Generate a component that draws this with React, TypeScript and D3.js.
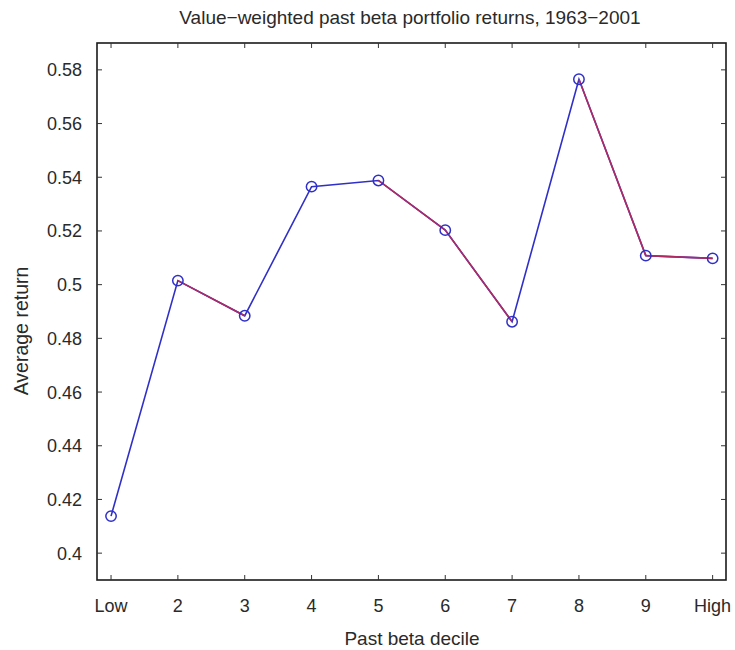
import React from "react";
import * as d3 from "d3";

const categories: string[] = ["Low", "2", "3", "4", "5", "6", "7", "8", "9", "High"];
const returnsVW: number[] = [0.4138, 0.5015, 0.4884, 0.5365, 0.5388, 0.5203, 0.4862, 0.5765, 0.5108, 0.5098];
const yTicks: number[] = [0.4, 0.42, 0.44, 0.46, 0.48, 0.5, 0.52, 0.54, 0.56, 0.58];
const titleText = "Value\u2212weighted past beta portfolio returns, 1963\u22122001";
const xLabelText = "Past beta decile";
const yLabelText = "Average return";

const W = 735;
const H = 650;
const L = 97, R = 726, T = 43, B = 580;
const FONT = "'Liberation Sans', Arial, Helvetica, sans-serif";

export default function App() {
  const x = d3.scaleLinear().domain([0.79, 10.2]).range([L, R]);
  const y = d3.scaleLinear().domain([0.39, 0.59]).range([B, T]);
  const xIdx = categories.map((_, i) => i + 1);
  const pts: [number, number][] = returnsVW.map((v, i) => [x(i + 1), y(v)]);
  const line = d3.line<[number, number]>();
  const tickLen = 5;
  const blue = "#3030c8";
  const red = "#b02a62";
  const textCol = "#2a2a2a";

  return (
    <svg width={W} height={H} style={{ position: "absolute", left: 0, top: 0, background: "#fff" }}>
      <rect x={0} y={0} width={W} height={H} fill="#fff" />
      <text x={410} y={24} textAnchor="middle" fontFamily={FONT} fontSize={19} fill={textCol}>
        {titleText}
      </text>
      {/* plot box */}
      <rect x={L} y={T} width={R - L} height={B - T} fill="#fff" stroke="#1a1a1a" strokeWidth={1.6} />
      {/* x ticks */}
      {xIdx.map((i) => (
        <g key={"xt" + i}>
          <line x1={x(i)} x2={x(i)} y1={B} y2={B - tickLen} stroke="#333" strokeWidth={1} />
          <line x1={x(i)} x2={x(i)} y1={T} y2={T + tickLen} stroke="#333" strokeWidth={1} />
          <text x={x(i)} y={612} textAnchor="middle" fontFamily={FONT} fontSize={18} fill={textCol}>
            {categories[i - 1]}
          </text>
        </g>
      ))}
      {/* y ticks */}
      {yTicks.map((t) => (
        <g key={"yt" + t}>
          <line x1={L} x2={L + tickLen} y1={y(t)} y2={y(t)} stroke="#333" strokeWidth={1} />
          <line x1={R} x2={R - tickLen} y1={y(t)} y2={y(t)} stroke="#333" strokeWidth={1} />
          <text x={82} y={y(t)} dy="0.36em" textAnchor="end" fontFamily={FONT} fontSize={18} fill={textCol}>
            {d3.format("")(t)}
          </text>
        </g>
      ))}
      {/* series line: blue base, falling segments in red */}
      <path d={line(pts) || ""} fill="none" stroke={blue} strokeWidth={1.6} />
      {pts.slice(1).map((p, i) =>
        returnsVW[i + 1] < returnsVW[i] ? (
          <path key={"rs" + i} d={line([pts[i], p]) || ""} fill="none" stroke={red} strokeWidth={1.6} />
        ) : null
      )}
      {pts.map((p, i) => (
        <circle key={"m" + i} cx={p[0]} cy={p[1]} r={5.2} fill="none" stroke={blue} strokeWidth={1.5} />
      ))}
      <text x={412} y={645} textAnchor="middle" fontFamily={FONT} fontSize={19} fill={textCol}>
        {xLabelText}
      </text>
      <text
        transform={`translate(28, 331) rotate(-90)`}
        textAnchor="middle"
        fontFamily={FONT}
        fontSize={19.5}
        fill={textCol}
      >
        {yLabelText}
      </text>
    </svg>
  );
}
